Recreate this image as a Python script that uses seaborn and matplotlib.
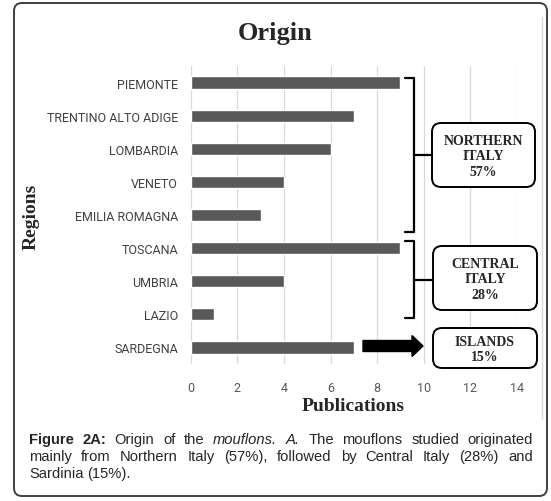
import matplotlib
matplotlib.use('Agg')
import matplotlib.pyplot as plt
import matplotlib.patches as mpatches
from matplotlib.lines import Line2D
import seaborn as sns
import pandas as pd

# data
regions = ['PIEMONTE', 'TRENTINO ALTO ADIGE', 'LOMBARDIA', 'VENETO', 'EMILIA ROMAGNA',
           'TOSCANA', 'UMBRIA', 'LAZIO', 'SARDEGNA']
publications = [9, 7, 6, 4, 3, 9, 4, 1, 7]
x_ticks = [0, 2, 4, 6, 8, 10, 12, 14]
group_labels = ['NORTHERN\nITALY\n57%', 'CENTRAL\nITALY\n28%', 'ISLANDS\n15%']

df = pd.DataFrame({'region': regions, 'publications': publications})

sns.set_style('white')
W, H = 551, 502
fig = plt.figure(figsize=(W / 100, H / 100), dpi=100)
ax = fig.add_axes([190.7 / W, 1 - 365 / H, 326.2 / W, 298 / H])

sns.barplot(data=df, x='publications', y='region', orient='h', color='#595959',
            width=0.37, saturation=1, ax=ax)
ax.set_xlim(0, 14)
ax.set_ylim(8.5, -0.5)
ax.set_xticks(x_ticks)
ax.grid(axis='x', color='#d9d9d9', lw=0.9)
ax.grid(axis='y', visible=False)
ax.set_axisbelow(True)
sns.despine(ax=ax, left=True, bottom=True)
ax.tick_params(length=0)
ax.tick_params(axis='y', pad=9, labelsize=9, labelcolor='#404040')
ax.tick_params(axis='x', pad=12, labelsize=9, labelcolor='#595959')
for t in ax.get_yticklabels() + ax.get_xticklabels():
    t.set_family('Roboto')
ax.set_xlabel('')
ax.set_ylabel('')

inch = fig.dpi_scale_trans


def px(x, y):
    return x / 100, (H - y) / 100


# titles
fig.text(275 / W, 1 - 34 / H, 'Origin', ha='center', va='center', family='Liberation Serif',
         weight='bold', fontsize=19)
fig.text(353 / W, 1 - 407 / H, 'Publications', ha='center', va='center',
         family='Liberation Serif', weight='bold', fontsize=14)
fig.text(31 / W, 1 - 217 / H, 'Regions', ha='center', va='center', rotation=90,
         family='Liberation Serif', weight='bold', fontsize=14)

# outer frame and chart border
frame = mpatches.FancyBboxPatch(px(14, 497), 533 / 100, 493 / 100,
                                boxstyle='round,pad=0,rounding_size=0.08',
                                transform=inch, fc='none', ec='#404040', lw=1.4)
fig.patches.append(frame)
fig.lines.append(Line2D([542 / W, 542 / W], [1 - 18 / H, 1 - 420 / H],
                        transform=fig.transFigure, color='#d9d9d9', lw=1))


# braces
def brace(top, bottom, nub):
    xs = [405, 414, 414, 405]
    ys = [top, top, bottom, bottom]
    pts = [px(a, b) for a, b in zip(xs, ys)]
    fig.lines.append(Line2D([p[0] for p in pts], [p[1] for p in pts], transform=inch,
                            color='black', lw=1.6, solid_joinstyle='round'))
    a, b = px(414, nub), px(432, nub)
    fig.lines.append(Line2D([a[0], b[0]], [a[1], b[1]], transform=inch, color='black', lw=1.6))


brace(79, 233, 156)
brace(242, 319, 281)

# group boxes
boxes = [(432, 124, 535, 188), (433, 247, 537, 311), (433, 329, 537, 369)]
for (x0, y0, x1, y1), lab in zip(boxes, group_labels):
    p = mpatches.FancyBboxPatch(px(x0, y1), (x1 - x0) / 100, (y1 - y0) / 100,
                                boxstyle='round,pad=0,rounding_size=0.09',
                                transform=inch, fc='white', ec='black', lw=1.4)
    fig.patches.append(p)
    cx, cy = px((x0 + x1) / 2, (y0 + y1) / 2 + 1)
    fig.text(cx, cy, lab, transform=inch, ha='center', va='center', family='Liberation Serif',
             weight='bold', fontsize=10, linespacing=1.25)

# arrow to islands box
arr = mpatches.FancyArrow(*px(363, 347), 0.60, 0, width=0.11, head_width=0.21,
                          head_length=0.11, length_includes_head=True, transform=inch,
                          color='black')
fig.patches.append(arr)

# caption (justified)
cap_lines = [
    [('Figure', 'bold', 'normal'), ('2A:', 'bold', 'normal'), ('Origin', 'normal', 'normal'),
     ('of', 'normal', 'normal'), ('the', 'normal', 'normal'), ('mouflons.', 'normal', 'italic'),
     ('A.', 'normal', 'italic'), ('The', 'normal', 'normal'), ('mouflons', 'normal', 'normal'),
     ('studied', 'normal', 'normal'), ('originated', 'normal', 'normal')],
    [(w, 'normal', 'normal') for w in
     'mainly from Northern Italy (57%), followed by Central Italy (28%) and'.split()],
    [(w, 'normal', 'normal') for w in 'Sardinia (15%).'.split()],
]
baselines = [444, 461, 478]
left, right = 29, 533
cap_size = 10.6
renderer = fig.canvas.get_renderer()
for i, (words, yb) in enumerate(zip(cap_lines, baselines)):
    texts = [fig.text(0, 1 - yb / H, w, family='Liberation Sans', fontsize=cap_size, weight=wt,
                      style=st, va='baseline') for w, wt, st in words]
    widths = [t.get_window_extent(renderer).width for t in texts]
    if i < len(cap_lines) - 1:
        gap = (right - left - sum(widths)) / (len(words) - 1)
    else:
        sp = fig.text(0, 0, 'a a', fontsize=cap_size, family='Liberation Sans')
        sp2 = fig.text(0, 0, 'aa', fontsize=cap_size, family='Liberation Sans')
        gap = sp.get_window_extent(renderer).width - sp2.get_window_extent(renderer).width
        sp.remove()
        sp2.remove()
    x = left
    for t, w in zip(texts, widths):
        t.set_x(x / W)
        x += w + gap

fig.savefig('out.png', dpi=100)
